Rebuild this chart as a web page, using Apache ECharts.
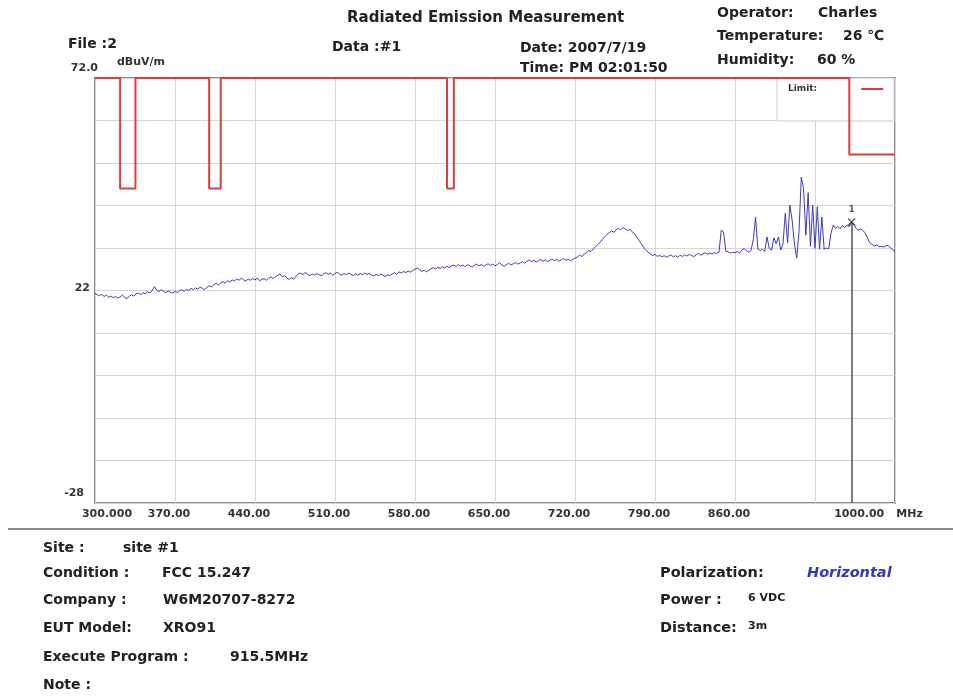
<!DOCTYPE html>
<html>
<head>
<meta charset="utf-8">
<script src="https://cdn.jsdelivr.net/npm/echarts@6/dist/echarts.min.js"></script>
<style>
  html, body { margin: 0; padding: 0; background: #fff; }
  #chart { width: 953px; height: 698px; }
</style>
</head>
<body>
<div id="chart"></div>
<script>
// Sweep settings of the receiver trace (MHz)
const sweepStart = 300;
const sweepStep = 2;

// Measured level for each sweep step, dBuV/m (300 ... 1000 MHz)
const levels = [
  21.3, 21.0, 20.8, 21.1, 20.6, 20.9, 20.4, 20.7, 20.3, 20.6,
  20.2, 20.5, 20.9, 20.4, 20.1, 20.6, 21.0, 20.7, 21.2, 21.4,
  21.0, 21.5, 21.2, 21.7, 21.4, 22.0, 22.9, 22.1, 21.7, 22.2,
  21.8, 21.5, 21.9, 21.6, 21.4, 21.8, 21.5, 21.9, 22.2, 21.8,
  22.3, 22.0, 22.5, 22.2, 22.6, 22.3, 22.8, 22.5, 22.2, 22.8,
  23.1, 22.8, 23.4, 23.7, 23.3, 23.8, 24.1, 23.7, 24.3, 24.0,
  24.5, 24.2, 24.7, 24.4, 24.9, 24.5, 24.2, 24.7, 24.4, 24.8,
  24.5, 24.9, 24.3, 24.6, 24.8, 24.4, 24.9, 25.2, 24.8, 25.3,
  25.6, 25.9, 25.2, 25.5, 24.9, 24.6, 25.0, 24.7, 25.4, 25.9,
  26.1, 25.7, 26.3, 25.8, 25.5, 25.9, 25.6, 26.0, 25.7, 25.5,
  25.9, 26.2, 25.8, 26.1, 25.6, 26.0, 26.3, 25.9, 25.6, 26.0,
  25.7, 26.1, 25.8, 25.5, 25.9, 25.6, 26.0, 25.7, 26.1, 25.8,
  26.0, 25.7, 25.4, 25.8, 25.5, 25.9, 25.6, 25.3, 25.7, 25.5,
  25.9, 26.2, 25.8, 26.4, 26.1, 26.5, 26.2, 26.6, 26.3, 26.7,
  27.0, 27.3, 26.9, 26.5, 26.8, 26.4, 26.7, 27.1, 27.4, 27.0,
  27.5, 27.2, 27.6, 27.3, 27.7, 27.4, 27.8, 28.0, 27.6, 28.1,
  27.7, 28.0, 27.6, 28.1, 27.8, 27.5, 27.9, 28.2, 27.8, 28.1,
  27.7, 28.0, 28.3, 27.9, 28.2, 27.8, 28.1, 28.5, 28.0, 27.7,
  28.1, 28.4, 28.0, 28.3, 28.6, 28.2, 28.5, 28.8, 28.4, 28.9,
  29.2, 28.8, 29.1, 28.7, 29.0, 29.3, 28.9, 29.2, 28.8, 29.1,
  29.4, 29.0, 29.3, 28.9, 29.2, 29.5, 29.1, 29.4, 29.0, 29.3,
  29.6, 29.9, 30.3, 30.0, 30.6, 30.9, 31.4, 31.2, 31.8, 32.3,
  32.8, 33.4, 34.0, 34.6, 35.2, 35.6, 36.0, 35.7, 36.3, 36.6,
  36.3, 36.8, 36.5, 36.1, 36.4, 35.8, 35.4, 34.6, 33.8, 33.0,
  32.2, 31.5, 31.0, 30.6, 30.2, 30.5, 30.0, 30.3, 29.9, 30.2,
  29.8, 30.1, 30.4, 29.9, 30.2, 29.8, 30.3, 30.0, 30.4, 30.1,
  30.5, 30.2, 30.0, 30.4, 30.7, 30.3, 30.6, 30.9, 30.5, 30.8,
  30.6, 30.9, 30.7, 31.0, 36.2, 35.8, 31.2, 31.1, 30.8, 31.0,
  30.9, 31.2, 30.8, 31.5, 31.9, 31.3, 31.0, 31.4, 34.0, 39.3,
  31.8, 31.4, 31.7, 31.2, 34.6, 31.9, 31.5, 34.4, 33.0, 34.6,
  31.5, 33.0, 40.2, 33.2, 42.1, 38.5, 33.0, 29.6, 35.8, 48.7,
  46.0, 35.0, 45.0, 32.4, 42.1, 31.9, 41.7, 31.7, 39.3, 31.7,
  32.0, 31.8, 35.5, 37.4, 36.6, 37.1, 36.5, 37.3, 36.8, 37.4,
  37.0, 38.1, 37.6, 36.6, 36.2, 36.5, 36.1, 35.5, 34.3, 33.2,
  32.8, 32.5, 32.7, 32.3, 32.4, 32.2, 32.5, 32.6, 32.0, 31.6,
  31.2
];

// Limit line corners (MHz / dBuV/m), restricted bands drop to 46
const limitFreqs  = [300, 322, 322, 335.4, 335.4, 399.9, 399.9, 410, 410, 608, 608, 614, 614, 960, 960, 1000];
const limitLevels = [72,  72,  46,  46,    72,    72,    46,    46,  72,  72,  46,  46,  72,  72,  54,  54];

// Marker 1
const markerFreq = 962;
const markerLevel = 38.1;

// Axis grid and labels
const xGridValues  = [300, 370, 440, 510, 580, 650, 720, 790, 860, 930, 1000];
const xLabelValues = [300, 370, 440, 510, 580, 650, 720, 790, 860, 1000];
const xLabelTexts  = ['300.000', '370.00', '440.00', '510.00', '580.00', '650.00', '720.00', '790.00', '860.00', '1000.00'];
const yGridValues  = [-28, -18, -8, 2, 12, 22, 32, 42, 52, 62, 72];
const yLabelValues = [-28, 22, 72];
const yLabelTexts  = ['-28', '22', '72.0'];

const traceData = levels.map((v, i) => [sweepStart + i * sweepStep, v]);
const limitData = limitFreqs.map((f, i) => [f, limitLevels[i]]);

const FONT_B = "'DejaVu Sans'";
const axisFont = { fontFamily: FONT_B, fontWeight: 'bold', fontSize: 11, color: '#333' };

function txt(x, y, text, size, extra) {
  return {
    type: 'text', x: x, y: y, silent: true,
    style: Object.assign({
      text: text,
      font: 'bold ' + size + 'px ' + FONT_B,
      fill: '#222',
      verticalAlign: 'middle'
    }, extra || {})
  };
}

const chart = echarts.init(document.getElementById('chart'));
chart.setOption({
  animation: false,
  backgroundColor: '#fff',
  grid: {
    left: 95, right: 58, top: 78, bottom: 195,
    show: true, borderColor: '#8a8a8a', borderWidth: 2, backgroundColor: '#fff'
  },
  legend: {
    data: ['Limit'],
    left: 777, top: 78,
    z: 1,
    align: 'right',
    orient: 'vertical',
    padding: [5, 11, 26, 11],
    backgroundColor: '#fff',
    borderColor: '#c8c8c8',
    borderWidth: 1,
    itemWidth: 22, itemHeight: 2,
    icon: 'rect',
    formatter: () => 'Limit:',
    textStyle: { fontFamily: FONT_B, fontWeight: 'bold', fontSize: 9, color: '#333', lineHeight: 12, padding: [0, 39, 0, 0] }
  },
  xAxis: {
    type: 'value', min: 300, max: 1000,
    axisLine: { show: false },
    axisTick: { show: false, customValues: xGridValues },
    splitLine: { show: true, lineStyle: { color: '#d6d6d6', width: 1 } },
    axisLabel: {
      customValues: xLabelValues,
      margin: 6,
      formatter: function (v) {
        const i = xLabelValues.indexOf(v);
        const t = i >= 0 ? xLabelTexts[i] : '';
        if (i === 0) return '{first|' + t + '}';
        if (i === xLabelValues.length - 1) return '{last|' + t + '}{unit|MHz}';
        return '{d|' + t + '}';
      },
      rich: {
        d: Object.assign({ padding: [0, 12, 0, 0] }, axisFont),
        first: Object.assign({ padding: [0, 0, 0, 24] }, axisFont),
        last: Object.assign({ padding: [0, 12, 0, 0] }, axisFont),
        unit: Object.assign({ padding: [0, 33, 0, 0] }, axisFont)
      }
    }
  },
  yAxis: {
    type: 'value', min: -28, max: 72,
    axisLine: { show: false },
    axisTick: { show: false, customValues: yGridValues },
    splitLine: { show: true, lineStyle: { color: '#d6d6d6', width: 1 } },
    axisLabel: {
      customValues: yLabelValues,
      margin: -3,
      formatter: function (v) {
        const i = yLabelValues.indexOf(v);
        const t = i >= 0 ? yLabelTexts[i] : '';
        if (v === 72) return '{top|' + t + '}';
        if (v === -28) return '{bot|' + t + '}';
        return '{mid|' + t + '}';
      },
      rich: {
        top: Object.assign({ padding: [0, 0, 20, 0] }, axisFont),
        mid: Object.assign({ padding: [0, 8, 4, 0] }, axisFont),
        bot: Object.assign({ padding: [0, 14, 20, 0] }, axisFont)
      }
    },
    name: 'dBuV/m',
    nameLocation: 'end',
    nameGap: 10,
    nameTextStyle: Object.assign({ align: 'left', padding: [0, 0, 0, 22] }, axisFont)
  },
  series: [
    {
      name: 'Trace',
      type: 'line',
      data: traceData,
      showSymbol: false,
      z: 3,
      lineStyle: { color: '#3b3bc4', width: 1 },
      itemStyle: { color: '#3b3bc4' },
      markLine: {
        silent: true,
        symbol: 'none',
        label: { show: false },
        lineStyle: { color: '#555', width: 1.5, type: 'solid' },
        data: [[{ coord: [markerFreq, markerLevel] }, { coord: [markerFreq, -28] }]]
      }
    },
    {
      name: 'Limit',
      type: 'line',
      data: limitData,
      showSymbol: false,
      clip: false,
      z: 4,
      lineStyle: { color: '#e03c3c', width: 2 },
      itemStyle: { color: '#e03c3c' }
    },
    {
      name: 'Marker',
      type: 'scatter',
      data: [[markerFreq, markerLevel]],
      symbol: 'path://M0,0L10,10M10,0L0,10',
      symbolSize: 7,
      z: 5,
      itemStyle: { color: 'none', borderColor: '#333', borderWidth: 1.5 },
      label: {
        show: true, position: 'top', distance: 2,
        formatter: '1',
        fontFamily: FONT_B, fontWeight: 'bold', fontSize: 9, color: '#333'
      }
    }
  ],
  graphic: {
    elements: [
      txt(347, 18, 'Radiated Emission Measurement', 15),
      txt(68, 44, 'File :2', 14),
      txt(332, 47, 'Data :#1', 14),
      txt(520, 48, 'Date: 2007/7/19', 14),
      txt(520, 68, 'Time: PM 02:01:50', 14),
      txt(717, 13, 'Operator:', 14),
      txt(818, 13, 'Charles', 14),
      txt(717, 36, 'Temperature:', 14),
      txt(843, 36, '26 \u2103', 14),
      txt(717, 60, 'Humidity:', 14),
      txt(817, 60, '60 %', 14),
      {
        type: 'line', silent: true,
        shape: { x1: 8, y1: 529, x2: 953, y2: 529 },
        style: { stroke: '#8a8a8a', lineWidth: 2 }
      },
      txt(43, 548, 'Site :', 14),
      txt(123, 548, 'site #1', 14),
      txt(43, 573, 'Condition :', 14),
      txt(162, 573, 'FCC 15.247', 14),
      txt(43, 600, 'Company :', 14),
      txt(163, 600, 'W6M20707-8272', 14),
      txt(43, 628, 'EUT Model:', 14),
      txt(163, 628, 'XRO91', 14),
      txt(43, 657, 'Execute Program :', 14),
      txt(230, 657, '915.5MHz', 14),
      txt(43, 685, 'Note :', 14),
      txt(660, 573, 'Polarization:', 14.5),
      txt(807, 573, 'Horizontal', 14.5, { font: 'italic bold 14.5px ' + FONT_B, fill: '#3535c0' }),
      txt(660, 600, 'Power :', 14.5),
      txt(748, 598, '6 VDC', 11),
      txt(660, 628, 'Distance:', 14.5),
      txt(748, 626, '3m', 11)
    ]
  }
});
</script>
</body>
</html>
